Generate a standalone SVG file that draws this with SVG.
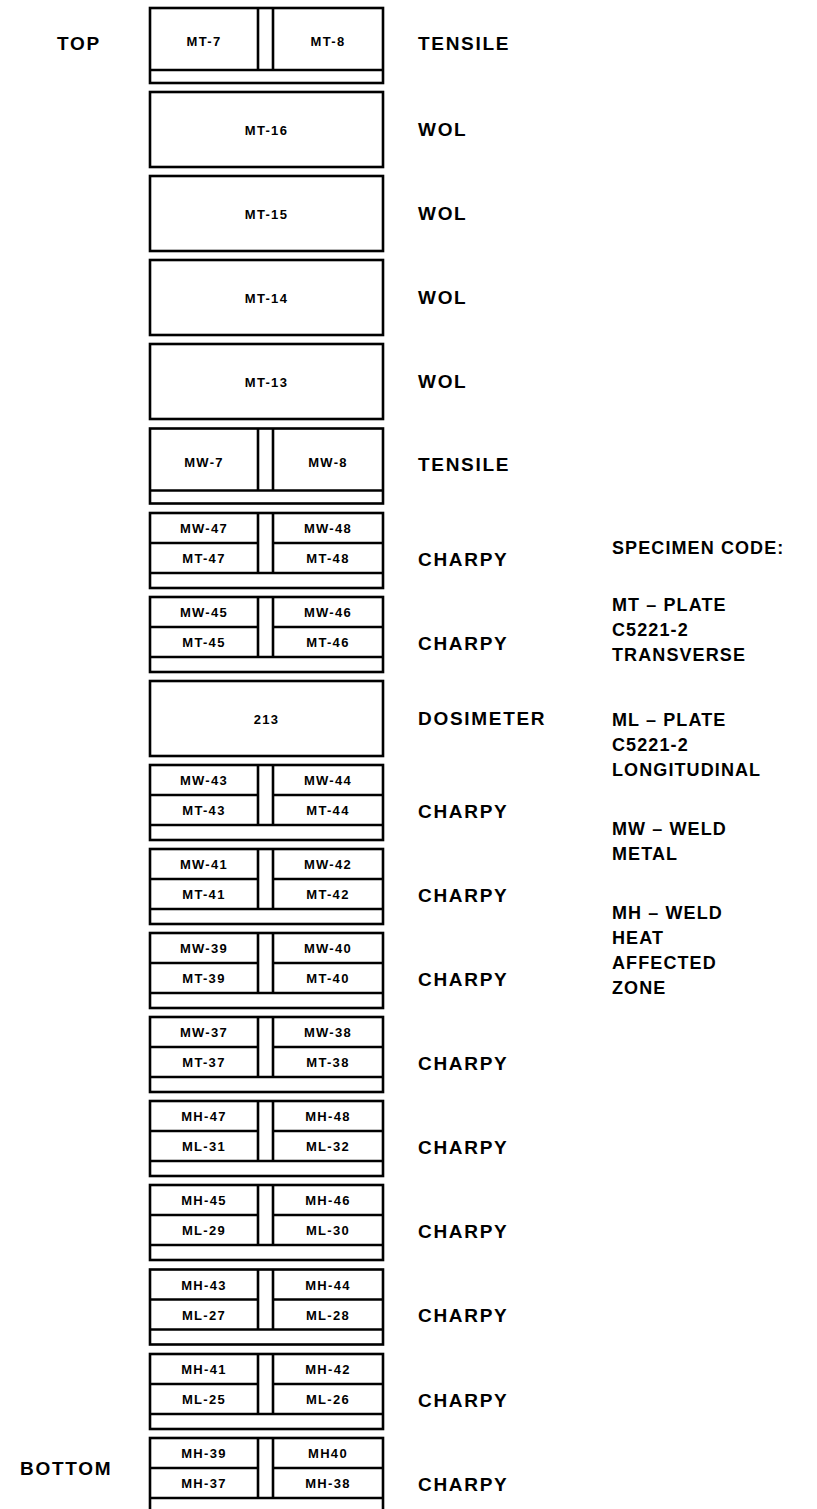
<svg xmlns="http://www.w3.org/2000/svg" width="817" height="1509" viewBox="0 0 817 1509">
<style>
.b{fill:none;stroke:#000;stroke-width:2.6}
.l{stroke:#000;stroke-width:2.6}
.t{font-family:"Liberation Sans",Arial,sans-serif;font-weight:bold;font-size:13px;text-anchor:middle;letter-spacing:1.3px;fill:#000}
.lb{font-family:"Liberation Sans",Arial,sans-serif;font-weight:bold;font-size:19px;letter-spacing:1.7px;fill:#000}
.lg{font-family:"Liberation Sans",Arial,sans-serif;font-weight:bold;font-size:18px;letter-spacing:1.1px;fill:#000}
</style>
<rect width="817" height="1509" fill="#fff"/>
<defs>
<g id="tens"><rect class="b" x="150" y="0" width="233" height="75"/><line class="l" x1="150" y1="62" x2="383" y2="62"/><line class="l" x1="258" y1="0" x2="258" y2="62"/><line class="l" x1="273" y1="0" x2="273" y2="62"/></g>
<g id="wol"><rect class="b" x="150" y="0" width="233" height="75"/></g>
<g id="ch"><rect class="b" x="150" y="0" width="233" height="75"/><line class="l" x1="150" y1="60" x2="383" y2="60"/><line class="l" x1="150" y1="30" x2="258" y2="30"/><line class="l" x1="273" y1="30" x2="383" y2="30"/><line class="l" x1="258" y1="0" x2="258" y2="60"/><line class="l" x1="273" y1="0" x2="273" y2="60"/></g>
</defs>

<g id="n0" transform="translate(0,8)"><use href="#tens"/><text class="t" x="204" y="38">MT-7</text><text class="t" x="328" y="38">MT-8</text><text class="lb" x="418" y="42">TENSILE</text><text class="lb" x="57" y="42">TOP</text></g>
<g id="n1" transform="translate(0,92)"><use href="#wol"/><text class="t" x="266.5" y="42.5">MT-16</text><text class="lb" x="418" y="44">WOL</text></g>
<g id="n2" transform="translate(0,176)"><use href="#wol"/><text class="t" x="266.5" y="42.5">MT-15</text><text class="lb" x="418" y="44">WOL</text></g>
<g id="n3" transform="translate(0,260)"><use href="#wol"/><text class="t" x="266.5" y="42.5">MT-14</text><text class="lb" x="418" y="44">WOL</text></g>
<g id="n4" transform="translate(0,344)"><use href="#wol"/><text class="t" x="266.5" y="42.5">MT-13</text><text class="lb" x="418" y="44">WOL</text></g>
<g id="n5" transform="translate(0,428.5)"><use href="#tens"/><text class="t" x="204" y="38">MW-7</text><text class="t" x="328" y="38">MW-8</text><text class="lb" x="418" y="42">TENSILE</text></g>
<g id="n6" transform="translate(0,513)"><use href="#ch"/><text class="t" x="204" y="20">MW-47</text><text class="t" x="328" y="20">MW-48</text><text class="t" x="204" y="50">MT-47</text><text class="t" x="328" y="50">MT-48</text><text class="lb" x="418" y="52.5">CHARPY</text></g>
<g id="n7" transform="translate(0,597)"><use href="#ch"/><text class="t" x="204" y="20">MW-45</text><text class="t" x="328" y="20">MW-46</text><text class="t" x="204" y="50">MT-45</text><text class="t" x="328" y="50">MT-46</text><text class="lb" x="418" y="52.5">CHARPY</text></g>
<g id="n8" transform="translate(0,681)"><use href="#wol"/><text class="t" x="266.5" y="42.5">213</text><text class="lb" x="418" y="44">DOSIMETER</text></g>
<g id="n9" transform="translate(0,765)"><use href="#ch"/><text class="t" x="204" y="20">MW-43</text><text class="t" x="328" y="20">MW-44</text><text class="t" x="204" y="50">MT-43</text><text class="t" x="328" y="50">MT-44</text><text class="lb" x="418" y="52.5">CHARPY</text></g>
<g id="n10" transform="translate(0,849)"><use href="#ch"/><text class="t" x="204" y="20">MW-41</text><text class="t" x="328" y="20">MW-42</text><text class="t" x="204" y="50">MT-41</text><text class="t" x="328" y="50">MT-42</text><text class="lb" x="418" y="52.5">CHARPY</text></g>
<g id="n11" transform="translate(0,933)"><use href="#ch"/><text class="t" x="204" y="20">MW-39</text><text class="t" x="328" y="20">MW-40</text><text class="t" x="204" y="50">MT-39</text><text class="t" x="328" y="50">MT-40</text><text class="lb" x="418" y="52.5">CHARPY</text></g>
<g id="n12" transform="translate(0,1017)"><use href="#ch"/><text class="t" x="204" y="20">MW-37</text><text class="t" x="328" y="20">MW-38</text><text class="t" x="204" y="50">MT-37</text><text class="t" x="328" y="50">MT-38</text><text class="lb" x="418" y="52.5">CHARPY</text></g>
<g id="n13" transform="translate(0,1101)"><use href="#ch"/><text class="t" x="204" y="20">MH-47</text><text class="t" x="328" y="20">MH-48</text><text class="t" x="204" y="50">ML-31</text><text class="t" x="328" y="50">ML-32</text><text class="lb" x="418" y="52.5">CHARPY</text></g>
<g id="n14" transform="translate(0,1185)"><use href="#ch"/><text class="t" x="204" y="20">MH-45</text><text class="t" x="328" y="20">MH-46</text><text class="t" x="204" y="50">ML-29</text><text class="t" x="328" y="50">ML-30</text><text class="lb" x="418" y="52.5">CHARPY</text></g>
<g id="n15" transform="translate(0,1269.5)"><use href="#ch"/><text class="t" x="204" y="20">MH-43</text><text class="t" x="328" y="20">MH-44</text><text class="t" x="204" y="50">ML-27</text><text class="t" x="328" y="50">ML-28</text><text class="lb" x="418" y="52.5">CHARPY</text></g>
<g id="n16" transform="translate(0,1354)"><use href="#ch"/><text class="t" x="204" y="20">MH-41</text><text class="t" x="328" y="20">MH-42</text><text class="t" x="204" y="50">ML-25</text><text class="t" x="328" y="50">ML-26</text><text class="lb" x="418" y="52.5">CHARPY</text></g>
<g id="n17" transform="translate(0,1438)"><use href="#ch"/><text class="t" x="204" y="20">MH-39</text><text class="t" x="328" y="20">MH40</text><text class="t" x="204" y="50">MH-37</text><text class="t" x="328" y="50">MH-38</text><text class="lb" x="418" y="52.5">CHARPY</text><text class="lb" x="20" y="37">BOTTOM</text></g>

<g id="legend">
<text class="lg" x="612" y="553.5">SPECIMEN CODE:</text>
<text class="lg" x="612" y="610.5">MT – PLATE</text>
<text class="lg" x="612" y="635.5">C5221-2</text>
<text class="lg" x="612" y="660.5">TRANSVERSE</text>
<text class="lg" x="612" y="725.5">ML – PLATE</text>
<text class="lg" x="612" y="750.5">C5221-2</text>
<text class="lg" x="612" y="775.5">LONGITUDINAL</text>
<text class="lg" x="612" y="834.5">MW – WELD</text>
<text class="lg" x="612" y="859.5">METAL</text>
<text class="lg" x="612" y="918.5">MH – WELD</text>
<text class="lg" x="612" y="943.5">HEAT</text>
<text class="lg" x="612" y="968.5">AFFECTED</text>
<text class="lg" x="612" y="993.5">ZONE</text>
</g>
</svg>
